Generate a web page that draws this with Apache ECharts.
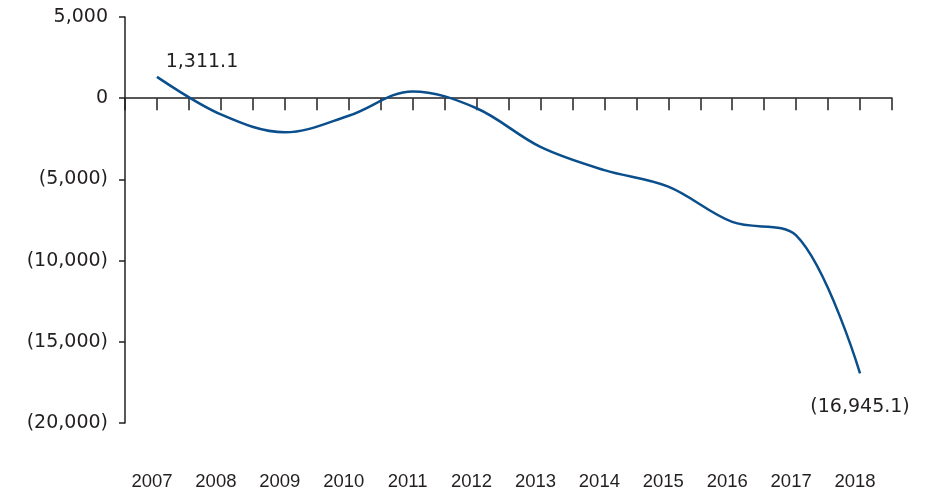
<!DOCTYPE html>
<html>
<head>
<meta charset="utf-8">
<script src="https://cdn.jsdelivr.net/npm/echarts@6/dist/echarts.min.js"></script>
<style>
html,body{margin:0;padding:0;background:#fff;}
#chart{width:930px;height:492px;}
</style>
</head>
<body>
<div id="chart"></div>
<script>
const years = [2007, 2008, 2009, 2010, 2011, 2012, 2013, 2014, 2015, 2016, 2017, 2018];
const values = [1311.1, -1000, -2100, -1080, 420, -620, -3000, -4430, -5450, -7620, -8450, -16945.1];
const yTicks = [-20000, -15000, -10000, -5000, 0, 5000];

function fmtNum(v, digits) {
  const s = Math.abs(v).toLocaleString('en-US', {minimumFractionDigits: digits, maximumFractionDigits: digits});
  return v < 0 ? '(' + s + ')' : s;
}

const lineColor = '#0a4f8c';
const axisColor = '#231f20';
const textColor = '#231f20';

const seriesData = years.map((y, i) => {
  const item = { value: [y, values[i]] };
  if (i === 0) {
    item.label = { show: true, position: 'top', offset: [45, 0] };
  } else if (i === years.length - 1) {
    item.label = { show: true, position: 'bottom', offset: [0, 19] };
  }
  return item;
});

const chart = echarts.init(document.getElementById('chart'), null, {renderer: 'canvas'});
chart.setOption({
  animation: false,
  backgroundColor: '#ffffff',
  grid: { left: 125, right: 38, top: 17, bottom: 69, containLabel: false, outerBoundsMode: 'none' },
  xAxis: [
    {
      type: 'value',
      min: years[0] - 0.5,
      max: years[years.length - 1] + 0.5,
      interval: 0.5,
      axisLine: { show: true, onZero: true, lineStyle: { color: axisColor, width: 1.5 } },
      axisTick: { show: true, length: 12, inside: false, lineStyle: { color: axisColor, width: 1.5 } },
      axisLabel: { show: false },
      splitLine: { show: false }
    },
    {
      type: 'value',
      position: 'bottom',
      min: years[0] - 0.5,
      max: years[years.length - 1] + 0.5,
      interval: 0.5,
      axisLine: { show: false, onZero: false },
      axisTick: { show: false },
      splitLine: { show: false },
      axisLabel: {
        show: true,
        margin: 49,
        color: textColor,
        fontFamily: 'Liberation Sans',
        fontSize: 18.5,
        padding: [0, 10, 0, 0],
        formatter: function (v) { return Number.isInteger(v) ? String(v) : ''; }
      }
    }
  ],
  yAxis: {
    type: 'value',
    min: yTicks[0],
    max: yTicks[yTicks.length - 1],
    interval: 5000,
    axisLine: { show: true, lineStyle: { color: axisColor, width: 1.5 } },
    axisTick: { show: true, length: 6, lineStyle: { color: axisColor, width: 1.5 } },
    splitLine: { show: false },
    axisLabel: {
      margin: 17,
      color: textColor,
      fontFamily: 'DejaVu Sans',
      fontSize: 19,
      formatter: function (v) { return fmtNum(v, 0); }
    }
  },
  series: [{
    type: 'line',
    xAxisIndex: 0,
    data: seriesData,
    smooth: 0.35,
    symbol: 'circle',
    symbolSize: 0,
    showSymbol: true,
    lineStyle: { color: lineColor, width: 2.5 },
    itemStyle: { color: lineColor },
    label: {
      show: false,
      color: textColor,
      fontFamily: 'DejaVu Sans',
      fontSize: 19,
      formatter: function (p) { return fmtNum(p.value[1], 1); }
    }
  }]
});
</script>
</body>
</html>
